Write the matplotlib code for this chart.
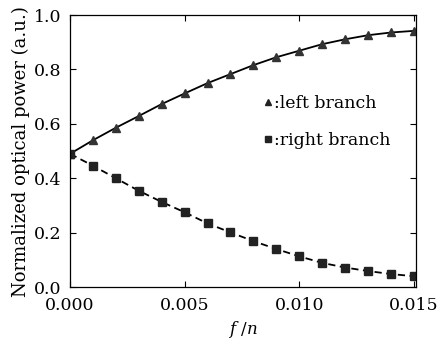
import matplotlib.pyplot as plt
from matplotlib.lines import Line2D
import numpy as np

# data
f_n = [0.000, 0.001, 0.002, 0.003, 0.004, 0.005, 0.006, 0.007,
       0.008, 0.009, 0.010, 0.011, 0.012, 0.013, 0.014, 0.015]
left_branch = [0.490, 0.540, 0.586, 0.629, 0.673, 0.712, 0.750, 0.783,
               0.816, 0.845, 0.869, 0.893, 0.911, 0.926, 0.936, 0.942]
right_branch = [0.490, 0.446, 0.400, 0.354, 0.313, 0.275, 0.234, 0.201,
                0.169, 0.140, 0.113, 0.089, 0.072, 0.059, 0.048, 0.040]

plt.rcParams['font.family'] = 'DejaVu Serif'
plt.rcParams['mathtext.fontset'] = 'dejavuserif'

fig = plt.figure(figsize=(4.38, 3.43), dpi=100)
ax = fig.add_axes([0.160, 0.163, 0.790, 0.793])

ax.plot(f_n, left_branch, '-', color='black', lw=1.3, marker='^',
        markersize=6, markerfacecolor='#333333', markeredgecolor='#333333')
ax.plot(f_n, right_branch, '--', color='black', lw=1.3, marker='s',
        markersize=5.5, markerfacecolor='#222222', markeredgecolor='#222222',
        dashes=(4, 2.5))

ax.set_xlim(0.0, 0.0151)
ax.set_ylim(0.0, 1.0)
ax.set_xticks([0.000, 0.005, 0.010, 0.015])
ax.set_xticklabels(['0.000', '0.005', '0.010', '0.015'])
ax.set_yticks([0.0, 0.2, 0.4, 0.6, 0.8, 1.0])
ax.set_yticklabels(['0.0', '0.2', '0.4', '0.6', '0.8', '1.0'])
ax.tick_params(direction='in', top=True, right=True, length=4,
               labelsize=12.5, width=0.8)
ax.tick_params(axis='x', pad=7)
ax.tick_params(axis='y', pad=6)
for s in ax.spines.values():
    s.set_linewidth(0.9)

ax.set_xlabel('$f$ /$n$', fontsize=12, labelpad=4)
ax.set_ylabel('Normalized optical power (a.u.)', fontsize=13, labelpad=3)

handles = [
    Line2D([], [], ls='none', marker='^', color='#222222', markersize=5),
    Line2D([], [], ls='none', marker='s', color='#222222', markersize=4.5),
]
ax.legend(handles, [':left branch', ':right branch'], loc='upper left',
          bbox_to_anchor=(0.515, 0.765), frameon=False, fontsize=12.5,
          handlelength=0.5, handletextpad=0.1, labelspacing=1.15)

fig.savefig('out.png', dpi=100)
